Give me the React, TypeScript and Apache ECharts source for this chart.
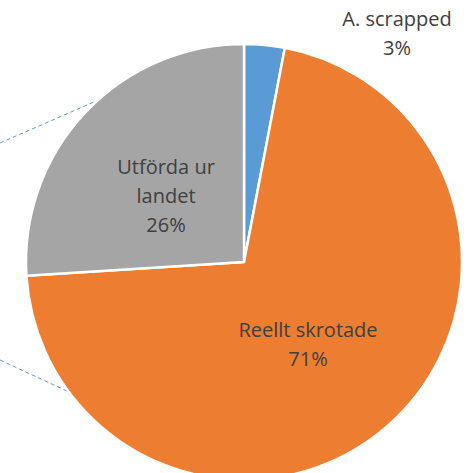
import React, { useEffect, useRef } from "react";
import * as echarts from "echarts";

const categories = ["A. scrapped", "Reellt skrotade", "Utförda ur\nlandet"];
const values = [3, 71, 26];
const colors = ["#5B9BD5", "#ED7D31", "#A5A5A5"];

const labelPos: Record<number, [number, number]> = {
  0: [397, 33],
  1: [308, 344],
  2: [166, 195],
};

export default function App() {
  const ref = useRef<HTMLDivElement>(null);
  useEffect(() => {
    if (!ref.current) return;
    const chart = echarts.init(ref.current, null, { renderer: "svg" });
    chart.setOption({
      animation: false,
      backgroundColor: "#ffffff",
      graphic: [
        {
          type: "line",
          shape: { x1: 0, y1: 143, x2: 110, y2: 95 },
          style: { stroke: "#5B9BD5", lineWidth: 1, lineDash: [4, 3] },
          silent: true,
        },
        {
          type: "line",
          shape: { x1: 0, y1: 360, x2: 82, y2: 398 },
          style: { stroke: "#5B9BD5", lineWidth: 1, lineDash: [4, 3] },
          silent: true,
        },
      ],
      series: [
        {
          type: "pie",
          center: [244, 262],
          radius: 218,
          startAngle: 90,
          clockwise: true,
          itemStyle: { borderColor: "#ffffff", borderWidth: 2.5 },
          label: {
            show: true,
            position: "inside",
            formatter: (p: any) => `${p.name}\n${Math.round(p.percent)}%`,
            color: "#404040",
            fontFamily: "Open Sans",
            fontSize: 20,
            lineHeight: 29,
            align: "center",
          },
          labelLine: { show: false },
          labelLayout: (p: any) => {
            const pos = labelPos[p.dataIndex];
            return { x: pos[0], y: pos[1], align: "center", verticalAlign: "middle" };
          },
          data: categories.map((c, i) => ({
            name: c,
            value: values[i],
            itemStyle: { color: colors[i] },
          })),
        },
      ],
    });
    return () => chart.dispose();
  }, []);
  return (
    <div
      ref={ref}
      style={{ position: "absolute", left: 0, top: 0, width: 468, height: 473 }}
    />
  );
}
